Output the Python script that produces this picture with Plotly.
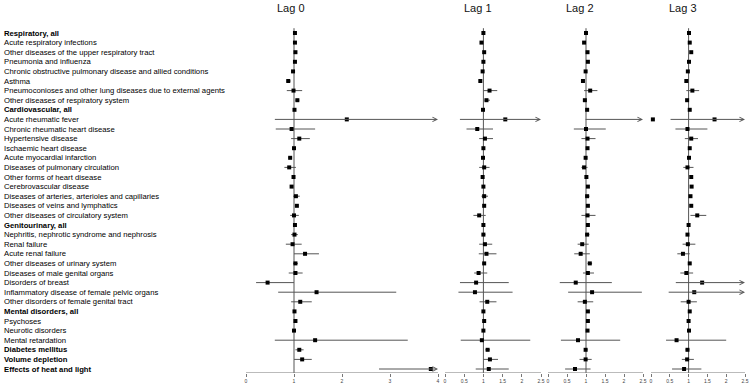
import plotly.graph_objects as go

categories = [
    "Respiratory, all",
    "Acute respiratory infections",
    "Other diseases of the upper respiratory tract",
    "Pneumonia and influenza",
    "Chronic obstructive pulmonary disease and allied conditions",
    "Asthma",
    "Pneumoconioses and other lung diseases due to external agents",
    "Other diseases of respiratory system",
    "Cardiovascular, all",
    "Acute rheumatic fever",
    "Chronic rheumatic heart disease",
    "Hypertensive disease",
    "Ischaemic heart disease",
    "Acute myocardial infarction",
    "Diseases of pulmonary circulation",
    "Other forms of heart disease",
    "Cerebrovascular disease",
    "Diseases of arteries, arterioles and capillaries",
    "Diseases of veins and lymphatics",
    "Other diseases of circulatory system",
    "Genitourinary, all",
    "Nephritis, nephrotic syndrome and nephrosis",
    "Renal failure",
    "Acute renal failure",
    "Other diseases of urinary system",
    "Diseases of male genital organs",
    "Disorders of breast",
    "Inflammatory disease of female pelvic organs",
    "Other disorders of female genital tract",
    "Mental disorders, all",
    "Psychoses",
    "Neurotic disorders",
    "Mental retardation",
    "Diabetes mellitus",
    "Volume depletion",
    "Effects of heat and light",
]
bold_rows = ["Respiratory, all", "Cardiovascular, all", "Genitourinary, all",
             "Mental disorders, all", "Diabetes mellitus", "Volume depletion",
             "Effects of heat and light"]

# Lag 0
est0 = [1.02, 1.02, 1.03, 1.02, 0.98, 0.88, 0.99, 1.07, 1.01, 2.10, 0.95, 1.11,
        1.00, 0.92, 0.90, 0.99, 0.95, 1.04, 1.06, 1.00, 1.02, 1.01, 0.97, 1.23,
        1.03, 1.03, 0.45, 1.47, 1.13, 1.01, 1.03, 1.00, 1.44, 1.11, 1.17, 3.85]
lo0 = [1.00, 0.99, 1.00, 0.99, 0.95, 0.84, 0.85, 1.03, 0.99, 0.57, 0.62, 0.94,
       0.98, 0.88, 0.80, 0.97, 0.92, 0.98, 1.02, 0.92, 0.99, 0.94, 0.83, 1.00,
       0.98, 0.89, 0.21, 0.67, 0.94, 0.99, 1.00, 0.98, 0.60, 1.03, 1.00, 2.74]
hi0 = [1.04, 1.05, 1.06, 1.05, 1.01, 0.93, 1.17, 1.11, 1.03, 5.00, 1.44, 1.33,
       1.02, 0.96, 1.04, 1.01, 0.98, 1.12, 1.09, 1.10, 1.03, 1.08, 1.16, 1.52,
       1.08, 1.18, 1.00, 3.13, 1.37, 1.03, 1.06, 1.02, 3.37, 1.20, 1.37, 5.00]

# Lag 1
est1 = [1.00, 0.95, 1.02, 1.00, 0.98, 0.92, 1.16, 1.08, 0.99, 1.57, 0.84, 1.04,
        1.00, 0.99, 1.02, 0.98, 1.00, 1.02, 1.02, 0.89, 1.00, 1.00, 1.04, 1.08,
        1.02, 0.875, 0.81, 0.78, 1.10, 1.00, 1.02, 1.00, 0.96, 1.11, 1.17, 1.14]
lo1 = [0.98, 0.92, 0.99, 0.97, 0.95, 0.88, 1.00, 1.03, 0.97, 0.35, 0.56, 0.89,
       0.98, 0.96, 0.89, 0.95, 0.97, 0.95, 0.99, 0.74, 0.98, 0.96, 0.89, 0.88,
       0.98, 0.76, 0.39, 0.35, 0.90, 0.98, 0.99, 0.98, 0.41, 1.05, 0.99, 0.80]
hi1 = [1.02, 0.98, 1.05, 1.03, 1.01, 0.96, 1.36, 1.17, 1.01, 3.00, 1.25, 1.25,
       1.02, 1.02, 1.16, 1.01, 1.03, 1.12, 1.05, 1.06, 1.02, 1.05, 1.23, 1.34,
       1.06, 1.10, 1.66, 1.76, 1.34, 1.02, 1.05, 1.02, 2.22, 1.17, 1.38, 1.66]

# Lag 2
est2 = [1.00, 0.95, 1.04, 1.05, 0.99, 0.92, 1.11, 0.97, 1.03, 2.76, 1.00, 1.04,
        1.04, 0.99, 0.95, 1.01, 1.05, 1.03, 1.05, 1.04, 1.05, 1.03, 0.90, 0.86,
        1.10, 1.05, 0.73, 1.16, 0.97, 1.05, 1.05, 1.04, 0.79, 0.99, 0.99, 0.71]
lo2 = [0.98, 0.92, 1.01, 1.02, 0.96, 0.88, 0.95, 0.94, 1.01, 0.95, 0.68, 0.88,
       1.01, 0.96, 0.88, 0.98, 1.02, 0.98, 1.02, 0.88, 1.02, 0.98, 0.78, 0.69,
       1.04, 0.92, 0.31, 0.53, 0.78, 1.02, 1.02, 1.01, 0.34, 0.95, 0.83, 0.45]
hi2 = [1.02, 0.98, 1.07, 1.08, 1.02, 0.96, 1.30, 1.00, 1.05, 3.50, 1.52, 1.25,
       1.07, 1.02, 1.04, 1.04, 1.08, 1.09, 1.08, 1.25, 1.08, 1.09, 1.07, 1.10,
       1.16, 1.21, 1.68, 2.47, 1.19, 1.08, 1.08, 1.07, 1.90, 1.04, 1.15, 1.12]

# Lag 3
est3 = [1.01, 1.03, 1.07, 1.01, 0.98, 0.94, 1.10, 0.96, 1.03, 1.69, 0.97, 1.07,
        1.03, 1.01, 0.97, 1.07, 1.08, 1.05, 1.07, 1.23, 1.00, 0.97, 0.98, 0.85,
        1.03, 0.94, 1.36, 1.15, 1.00, 1.03, 1.00, 1.01, 0.68, 0.97, 0.96, 0.88]
lo3 = [0.99, 0.99, 1.04, 0.98, 0.95, 0.90, 0.94, 0.93, 1.01, 0.48, 0.65, 0.90,
       1.00, 0.98, 0.86, 1.04, 1.05, 1.01, 1.04, 1.05, 0.98, 0.94, 0.84, 0.70,
       1.00, 0.78, 0.62, 0.43, 0.79, 1.00, 0.98, 0.98, 0.40, 0.92, 0.82, 0.56]
hi3 = [1.03, 1.07, 1.10, 1.04, 1.01, 0.98, 1.28, 0.99, 1.05, 3.00, 1.50, 1.25,
       1.06, 1.04, 1.13, 1.10, 1.11, 1.09, 1.10, 1.47, 1.02, 1.00, 1.18, 1.03,
       1.06, 1.12, 3.00, 3.00, 1.22, 1.06, 1.02, 1.04, 2.00, 1.02, 1.14, 1.34]

lag_titles = ["Lag 0", "Lag 1", "Lag 2", "Lag 3"]
lag_est = [est0, est1, est2, est3]
lag_lo = [lo0, lo1, lo2, lo3]
lag_hi = [hi0, hi1, hi2, hi3]
lag_max = [4, 2.5, 2.5, 2.5]
lag_ticks = [[0, 1, 2, 3, 4], [0, 0.5, 1, 1.5, 2, 2.5], [0, 0.5, 1, 1.5, 2, 2.5], [0, 0.5, 1, 1.5, 2, 2.5]]

W, H = 754, 387
BOTTOM = 14
PLOT_H = H - BOTTOM
ROW0 = 33.0
ROWSTEP = 9.6
dom_px = [(246, 438), (445, 541), (548, 643), (651, 745)]
EXTRA_PX = 14  # room right of each axis for points beyond the axis end
title_px = [291, 478, 580, 683]

y_top = -ROW0 / ROWSTEP
y_bot = (PLOT_H - ROW0) / ROWSTEP

LINE_COL = "#555555"
AXIS_COL = "#777777"
FONT = "Liberation Sans, Arial, sans-serif"

fig = go.Figure()
rows = list(range(len(categories)))
annotations = []
shapes = []

for k in range(4):
    ax = "x" if k == 0 else f"x{k+1}"
    mx = lag_max[k]
    xs, ys = [], []
    for i in rows:
        lo, hi = lag_lo[k][i], lag_hi[k][i]
        if hi > mx:
            annotations.append(dict(
                x=mx, y=i, ax=max(lo, 0), ay=i, xref=ax, yref="y", axref=ax, ayref="y",
                showarrow=True, arrowhead=5, arrowsize=0.9, arrowwidth=1,
                arrowcolor=LINE_COL, text="", standoff=0, startstandoff=0))
        else:
            xs += [lo, hi, None]
            ys += [i, i, None]
    fig.add_trace(go.Scatter(x=xs, y=ys, mode="lines", xaxis=ax, yaxis="y",
                             line=dict(color=LINE_COL, width=1), hoverinfo="skip",
                             showlegend=False))
    fig.add_trace(go.Scatter(x=lag_est[k], y=rows, mode="markers", xaxis=ax, yaxis="y",
                             marker=dict(symbol="square", size=4, color="black",
                                         line=dict(width=0)),
                             cliponaxis=False, showlegend=False))
    # reference line at 1
    shapes.append(dict(type="line", xref=ax, yref="y", x0=1, x1=1, y0=-0.5, y1=y_bot,
                       layer="below", line=dict(color=LINE_COL, width=1)))
    # axis line spanning 0..max
    shapes.append(dict(type="line", xref=ax, yref="y", x0=0, x1=mx, y0=y_bot, y1=y_bot,
                       layer="below", line=dict(color=AXIS_COL, width=1)))
    annotations.append(dict(x=title_px[k] / W, xref="paper", y=(8 - ROW0) / ROWSTEP, yref="y",
                            text=lag_titles[k], showarrow=False, xanchor="center",
                            yanchor="middle", font=dict(size=11, color="#111", family=FONT)))

for i, c in enumerate(categories):
    t = f"<b>{c}</b>" if c in bold_rows else c
    annotations.append(dict(x=2 / W, xref="paper", y=i, yref="y", text=t, showarrow=False,
                            xanchor="left", yanchor="middle",
                            font=dict(size=7.7, color="#000", family=FONT)))

layout = dict(
    width=W, height=H, margin=dict(l=0, r=0, t=0, b=BOTTOM),
    paper_bgcolor="white", plot_bgcolor="rgba(0,0,0,0)", showlegend=False,
    yaxis=dict(range=[y_bot, y_top], visible=False, domain=[0, 1]),
    annotations=annotations, shapes=shapes,
)
for k in range(4):
    key = "xaxis" if k == 0 else f"xaxis{k+1}"
    x0p, x1p = dom_px[k]
    scale = (x1p - x0p) / lag_max[k]
    right_px = min(x1p + EXTRA_PX, W)
    layout[key] = dict(
        domain=[x0p / W, right_px / W], range=[0, (right_px - x0p) / scale],
        anchor="y", showline=False,
        ticks="outside", ticklen=3, tickcolor=AXIS_COL, tickvals=lag_ticks[k],
        ticktext=[str(v) for v in lag_ticks[k]],
        tickfont=dict(size=5, color="#444", family=FONT),
        showgrid=False, zeroline=False, fixedrange=True,
    )
fig.update_layout(**layout)
fig.write_html("out.html", config={"displayModeBar": False, "staticPlot": True},
               post_script="document.body.style.margin='0';document.body.style.overflow='hidden';")
